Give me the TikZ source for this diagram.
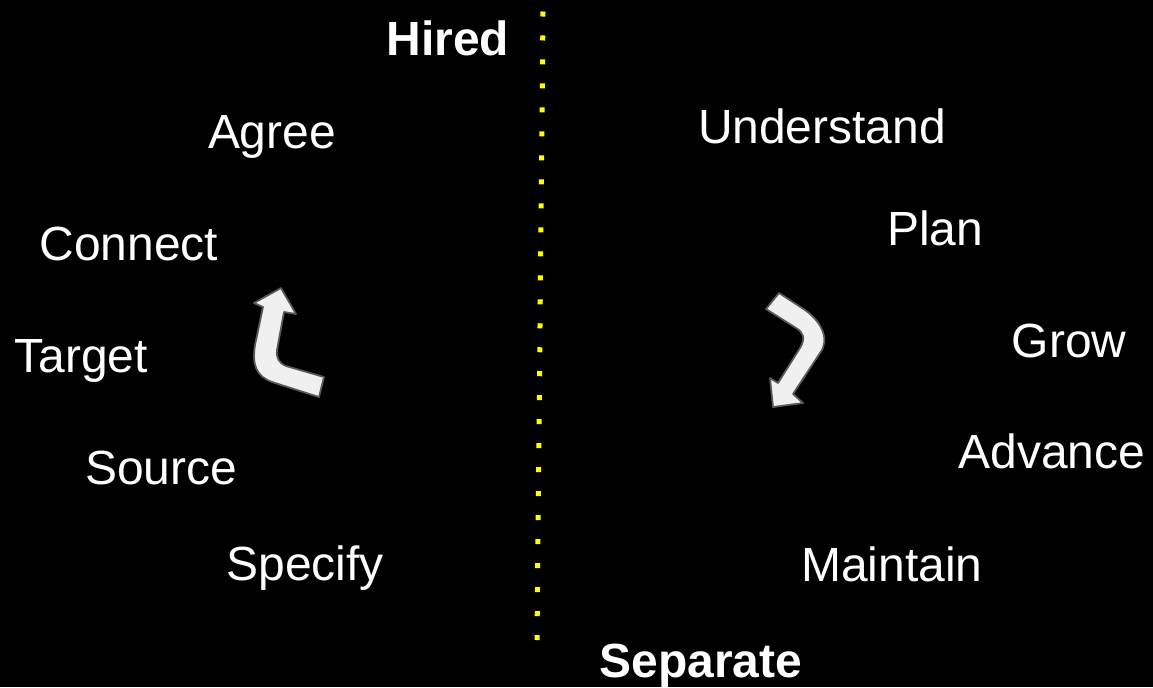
\documentclass[tikz,border=0pt]{standalone}
\usepackage{fontspec}
\setmainfont{Liberation Sans}
\usepackage{tikz}
\definecolor{bendgray} {RGB} {240, 240, 240}
\definecolor{edgegray} {RGB} {90, 90, 90}
\definecolor{dotyellow} {RGB} {255, 255, 0}
\tikzstyle{stage}=[
  text=white, anchor=base, inner sep=0pt, font=\fontsize{27.3}{32}\selectfont
]
\tikzstyle{milestone}=[
  stage, font=\fontsize{27.3}{32}\selectfont\bfseries
]
\tikzstyle{bentarrow}=[
  fill=bendgray, draw=edgegray, line width=1pt, line join=round
]

\begin{document}
\begin{tikzpicture}[x=0.02cm, y=-0.02cm]
      \fill[black] (0,0) rectangle (1153,687);
      \useasboundingbox (0,0) rectangle (1153,687);
      % divider
      \coordinate (top) at (543,11.5);
      \coordinate (bottom) at (537,640);
      \draw[dotyellow, line width=2.85pt, dash pattern=on 2.85pt off 10.8pt] (top) -- (bottom);
      % milestones
      \node[milestone] (hired) at (448,55) {Hired};
      \node[milestone] (separate) at (701,677) {Separate};
      % before hire
      \node[stage] (agree) at (272,148) {Agree};
      \node[stage] (connect) at (129,260) {Connect};
      \node[stage] (target) at (81,372) {Target};
      \node[stage] (source) at (161,484) {Source};
      \node[stage] (specify) at (305,580) {Specify};
      % after hire
      \node[stage] (understand) at (822,143) {Understand};
      \node[stage] (plan) at (935,245) {Plan};
      \node[stage] (grow) at (1069,357) {Grow};
      \node[stage] (advance) at (1052,468) {Advance};
      \node[stage] (maintain) at (892,581) {Maintain};
      % bent arrows
      \draw[bentarrow] (281,288) -- (296,314) -- (284,312) -- (277,350)
        .. controls (276,358) and (279,363) .. (286,366) -- (324,377) -- (319,397)
        -- (272,382) .. controls (256,376) and (252,365) .. (255,345)
        -- (263,307) -- (254,303) -- cycle;
      \draw[bentarrow] (766,309) -- (779,293) -- (805,310)
        .. controls (822,322) and (830,340) .. (820,353) -- (793,394)
        -- (803,403) -- (773,407) -- (770,378) -- (778,383) -- (800,348)
        .. controls (806,338) and (803,332) .. (796,328) -- cycle;
    \end{tikzpicture}
\end{document}
